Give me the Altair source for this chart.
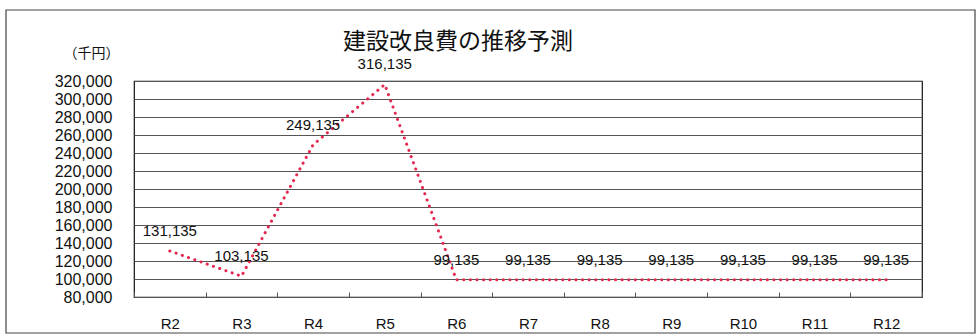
import altair as alt
import pandas as pd

years = ["R2", "R3", "R4", "R5", "R6", "R7", "R8", "R9", "R10", "R11", "R12"]
values = [131135, 103135, 249135, 316135, 99135, 99135, 99135, 99135, 99135, 99135, 99135]
y_ticks = list(range(80000, 320001, 20000))

df = pd.DataFrame({"year": years, "value": values})
df["label"] = [f"{v:,}" for v in values]

W, H = 788, 216
L, T = 134, 81

x_enc = alt.X("year:N", sort=years, scale=alt.Scale(paddingInner=0, paddingOuter=0),
              axis=alt.Axis(title=None, labelFont="Liberation Sans", labelFontSize=15,
                            labelColor="#111", labelAngle=0, domain=False,
                            tickBand="extent", tickSize=5, tickColor="#555",
                            offset=-5, labelPadding=19, grid=False))
y_enc = alt.Y("value:Q", scale=alt.Scale(domain=[80000, 320000], nice=False),
              axis=alt.Axis(values=y_ticks, labelExpr="floor(datum.value / 1000) + ',000'",
                            title="（千円）",
                            titleAngle=0, titleFont="Noto Sans CJK JP", titleFontSize=14,
                            titleFontWeight="normal", titleColor="#111",
                            titleX=-43, titleY=-28, titleAlign="center", titleBaseline="middle",
                            labelFont="Liberation Sans", labelFontSize=16, labelColor="#111",
                            labelPadding=22, ticks=False, domain=False,
                            grid=True, gridColor="#555", gridWidth=1))

first = alt.Chart(df).transform_filter(alt.datum.year == "R2")

frame = first.mark_rect(fill=None, stroke="#444", strokeWidth=1.2).encode(
    x=alt.value(6 - L), x2=alt.value(975 - L), y=alt.value(10 - T), y2=alt.value(333 - T)
)

title = first.mark_text(text="建設改良費の推移予測", font="Noto Sans CJK JP", fontSize=23,
                        color="#111", align="center", baseline="alphabetic").encode(
    x=alt.value(458 - L), y=alt.value(49 - T)
)

line = alt.Chart(df).mark_line(color="#e3284f", strokeWidth=3, strokeDash=[0.1, 6.5],
                               strokeCap="round").encode(x=x_enc, y=y_enc)

labels = alt.Chart(df).mark_text(font="Liberation Sans", fontSize=15, color="#111",
                                 dy=-20, baseline="middle").encode(
    x=x_enc, y=y_enc, text="label:N")

chart = alt.layer(frame, line, labels, title).properties(
    width=W, height=H,
    autosize=alt.AutoSizeParams(type="none"),
    padding={"left": L, "top": T, "right": 980 - L - W, "bottom": 335 - T - H},
    background="white",
).configure_view(stroke="#111", strokeWidth=1.2)

chart.save("out.html", embed_options={"renderer": "svg", "actions": False})
